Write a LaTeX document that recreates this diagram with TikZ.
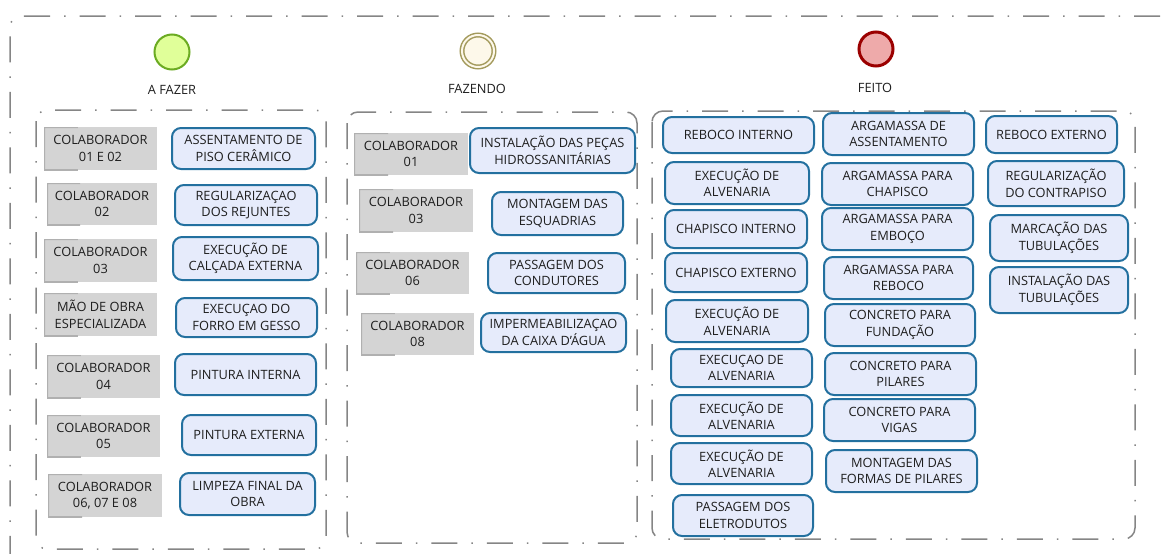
\documentclass[tikz,border=0pt]{standalone}
\usepackage{fontspec}
\setmainfont{Open Sans}
\usetikzlibrary{calc}

\definecolor{laneline}{HTML}{858585}
\definecolor{taskfill}{HTML}{E6EBFB}
\definecolor{taskedge}{HTML}{23709F}
\definecolor{collabfill}{HTML}{D4D4D4}
\definecolor{collabedge}{HTML}{B0B0B0}
\definecolor{txt}{HTML}{1E1E1E}
\definecolor{todofill}{HTML}{E0FF99}
\definecolor{todoedge}{HTML}{6BAB22}
\definecolor{doingfill}{HTML}{FDF8EA}
\definecolor{doingedge}{HTML}{A39A5C}
\definecolor{donefill}{HTML}{EEAAAA}
\definecolor{doneedge}{HTML}{9B0000}

\tikzset{
  x=1pt, y=-1pt,
  every node/.style={font=\fontsize{12.8}{16.5}\selectfont, text=txt},
  dashdot/.style={draw=laneline, line width=1.5,
    dash pattern=on 26pt off 14pt on 1.5pt off 14pt},
  lanebox/.style={dashdot, rounded corners=11},
  taskbox/.style={draw=taskedge, fill=taskfill, line width=2,
    rounded corners=9, align=center, inner sep=1pt},
  collabbox/.style={fill=collabfill, align=center, inner sep=1pt,
    path picture={
      \draw[collabedge, line width=2]
        ($(path picture bounding box.north west)!0.3!(path picture bounding box.north east)$)
        -- (path picture bounding box.north west)
        -- (path picture bounding box.south west)
        -- ($(path picture bounding box.south west)!0.3!(path picture bounding box.south east)$);
    }},
  eventlabel/.style={inner sep=0pt},
}

% box between two corners: style, name, x1, y1, x2, y2, text
\newcommand\cornerbox[7]{%
  \node[#1, minimum width={#5-#3}, minimum height={#6-#4}]
    (#2) at ({(#3+#5)/2},{(#4+#6)/2}) {#7};}

\begin{document}
\begin{tikzpicture}
\useasboundingbox (0,0) rectangle (1163,554);

% pool frame (open to the right and bottom)
\draw[dashdot, rounded corners=11] (1160,16) -- (10,16) -- (10,554);

% lanes
\draw[lanebox] (36,110) rectangle (326,549);
\draw[lanebox] (347,112) rectangle (637,543);
\draw[lanebox] (652,111) rectangle (1135,539);

% status events
\node[circle, draw=todoedge, fill=todofill, line width=2, minimum size=35] (todo) at (172,52) {};
\node[circle, draw=doingedge, double=doingfill, double distance=2, line width=1.5,
      fill=doingfill, minimum size=32] (doing) at (478,51) {};
\node[circle, draw=doneedge, fill=donefill, line width=3, minimum size=34] (done) at (876,49) {};

\node[eventlabel] (todolabel) at (172,90) {A FAZER};
\node[eventlabel] (doinglabel) at (477,89) {FAZENDO};
\node[eventlabel] (donelabel) at (875,88) {FEITO};

% lane: A FAZER
\cornerbox{collabbox}{g11}{44}{127}{157}{170}{COLABORADOR\\01 E 02}
\cornerbox{taskbox}{t11}{172}{128}{315}{169}{ASSENTAMENTO DE\\PISO CERÂMICO}
\cornerbox{collabbox}{g12}{47}{183}{157}{225}{COLABORADOR\\02}
\cornerbox{taskbox}{t12}{175}{185}{317}{225}{REGULARIZAÇAO\\DOS REJUNTES}
\cornerbox{collabbox}{g13}{44}{239}{157}{282}{COLABORADOR\\03}
\cornerbox{taskbox}{t13}{173}{237}{318}{280}{EXECUÇÃO DE\\CALÇADA EXTERNA}
\cornerbox{collabbox}{g14}{44}{293}{157}{336}{MÃO DE OBRA\\ESPECIALIZADA}
\cornerbox{taskbox}{t14}{176}{298}{317}{337}{EXECUÇAO DO\\FORRO EM GESSO}
\cornerbox{collabbox}{g15}{47}{355}{160}{398}{COLABORADOR\\04}
\cornerbox{taskbox}{t15}{175}{354}{316}{395}{PINTURA INTERNA}
\cornerbox{collabbox}{g16}{47}{415}{160}{457}{COLABORADOR\\05}
\cornerbox{taskbox}{t16}{182}{415}{316}{455}{PINTURA EXTERNA}
\cornerbox{collabbox}{g17}{48}{474}{162}{517}{COLABORADOR\\06, 07 E 08}
\cornerbox{taskbox}{t17}{180}{473}{315}{515}{LIMPEZA FINAL DA\\OBRA}

% lane: FAZENDO
\cornerbox{collabbox}{g21}{354}{133}{468}{175}{COLABORADOR\\01}
\cornerbox{taskbox}{t21}{470}{128}{635}{173}{INSTALAÇÃO DAS PEÇAS\\HIDROSSANITÁRIAS}
\cornerbox{collabbox}{g22}{359}{189}{473}{232}{COLABORADOR\\03}
\cornerbox{taskbox}{t22}{492}{192}{623}{235}{MONTAGEM DAS\\ESQUADRIAS}
\cornerbox{collabbox}{g23}{356}{252}{469}{294}{COLABORADOR\\06}
\cornerbox{taskbox}{t23}{488}{253}{625}{293}{PASSAGEM DOS\\CONDUTORES}
\cornerbox{collabbox}{g24}{361}{313}{474}{355}{COLABORADOR\\08}
\cornerbox{taskbox}{t24}{481}{313}{626}{352}{IMPERMEABILIZAÇAO\\DA CAIXA D'ÁGUA}

% lane: FEITO, first column
\cornerbox{taskbox}{t31}{663}{117}{814}{153}{REBOCO INTERNO}
\cornerbox{taskbox}{t32}{665}{162}{809}{204}{EXECUÇÃO DE\\ALVENARIA}
\cornerbox{taskbox}{t33}{665}{210}{807}{248}{CHAPISCO INTERNO}
\cornerbox{taskbox}{t34}{665}{253}{807}{292}{CHAPISCO EXTERNO}
\cornerbox{taskbox}{t35}{666}{300}{808}{342}{EXECUÇÃO DE\\ALVENARIA}
\cornerbox{taskbox}{t36}{671}{349}{812}{387}{EXECUÇAO DE\\ALVENARIA}
\cornerbox{taskbox}{t37}{671}{395}{812}{436}{EXECUÇÃO DE\\ALVENARIA}
\cornerbox{taskbox}{t38}{671}{443}{812}{484}{EXECUÇÃO DE\\ALVENARIA}
\cornerbox{taskbox}{t39}{673}{495}{813}{536}{PASSAGEM DOS\\ELETRODUTOS}

% lane: FEITO, second column
\cornerbox{taskbox}{t41}{823}{113}{974}{155}{ARGAMASSA DE\\ASSENTAMENTO}
\cornerbox{taskbox}{t42}{822}{163}{973}{205}{ARGAMASSA PARA\\CHAPISCO}
\cornerbox{taskbox}{t43}{822}{208}{973}{250}{ARGAMASSA PARA\\EMBOÇO}
\cornerbox{taskbox}{t44}{824}{257}{973}{299}{ARGAMASSA PARA\\REBOCO}
\cornerbox{taskbox}{t45}{825}{304}{975}{346}{CONCRETO PARA\\FUNDAÇÃO}
\cornerbox{taskbox}{t46}{825}{353}{976}{395}{CONCRETO PARA\\PILARES}
\cornerbox{taskbox}{t47}{824}{399}{975}{441}{CONCRETO PARA\\VIGAS}
\cornerbox{taskbox}{t48}{826}{450}{977}{492}{MONTAGEM DAS\\FORMAS DE PILARES}

% lane: FEITO, third column
\cornerbox{taskbox}{t51}{986}{116}{1117}{153}{REBOCO EXTERNO}
\cornerbox{taskbox}{t52}{988}{161}{1124}{206}{REGULARIZAÇÃO\\DO CONTRAPISO}
\cornerbox{taskbox}{t53}{990}{215}{1128}{261}{MARCAÇÃO DAS\\TUBULAÇÕES}
\cornerbox{taskbox}{t54}{990}{267}{1128}{313}{INSTALAÇÃO DAS\\TUBULAÇÕES}
\end{tikzpicture}
\end{document}
